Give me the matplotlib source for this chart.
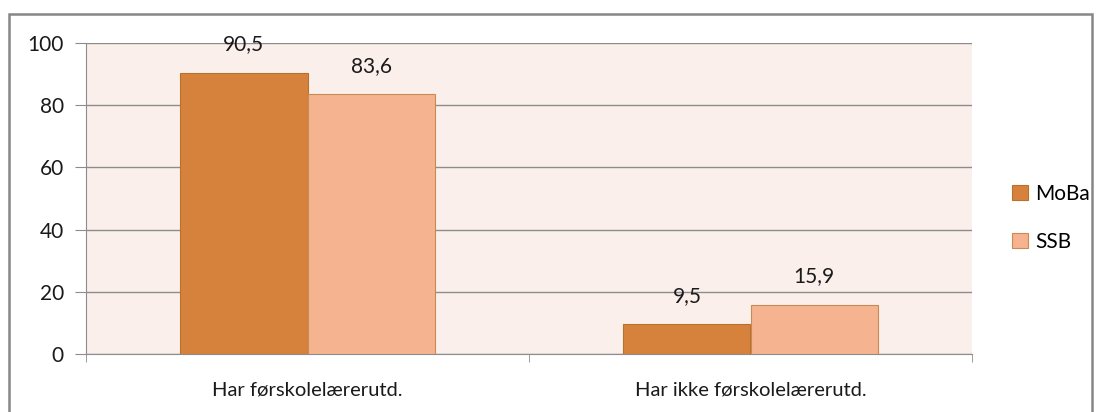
import matplotlib.pyplot as plt
import numpy as np
from matplotlib.patches import Rectangle

# data
categories = ['Har førskolelærerutd.', 'Har ikke førskolelærerutd.']
moba = [90.5, 9.5]
ssb = [83.6, 15.9]
series_names = ['MoBa', 'SSB']
yticks = [0, 20, 40, 60, 80, 100]

plt.rcParams['font.family'] = ['Lato', 'DejaVu Sans']

W, H = 1102, 412
fig = plt.figure(figsize=(W / 100, H / 100), dpi=100)

# outer chart border (bottom edge falls outside the image)
fig.patches.append(Rectangle((9 / W, -0.05), 1083 / W, (H - 14) / H + 0.05,
                             transform=fig.transFigure, fill=False,
                             edgecolor='#868686', linewidth=1.8))

ax = fig.add_axes([86 / W, (H - 354) / H, 886 / W, 311 / H])
ax.set_facecolor('#FBEFEB')

x = np.arange(len(categories))
bw = 0.287
b1 = ax.bar(x - bw / 2, moba, bw, color='#D6823C', edgecolor='#B8702F',
            linewidth=0.8, label=series_names[0], zorder=3)
b2 = ax.bar(x + bw / 2, ssb, bw, color='#F5B48F', edgecolor='#C98A55',
            linewidth=0.8, label=series_names[1], zorder=3)

# value labels
for bars in (b1, b2):
    for bar in bars:
        h = bar.get_height()
        ax.text(bar.get_x() + bar.get_width() / 2, h + 5.8,
                f"{h:.1f}".replace('.', ','), ha='center', va='bottom',
                fontsize=15, color='#1A1A1A')

ax.set_xlim(-0.5, 1.5)
ax.set_ylim(0, 100)
ax.set_yticks(yticks)
ax.yaxis.grid(True, color='#8C8C8C', linewidth=1, zorder=0)
ax.set_axisbelow(True)

ax.set_xticks(x)
ax.set_xticklabels(categories, fontsize=14.5, color='#1A1A1A')
ax.set_xticks([-0.5, 0.5, 1.5], minor=True)
ax.tick_params(axis='x', which='major', length=0, pad=20)
ax.tick_params(axis='x', which='minor', length=6, color='#8C8C8C')
ax.tick_params(axis='y', length=8, color='#8C8C8C', labelsize=15,
               labelcolor='#1A1A1A', pad=8)

for s in ['top', 'right']:
    ax.spines[s].set_visible(False)
ax.spines['left'].set_color('#8C8C8C')
ax.spines['bottom'].set_color('#8C8C8C')

fig.legend(handles=[b1, b2], labels=series_names, loc='center left',
           bbox_to_anchor=(1002 / W, (H - 218) / H), frameon=False,
           fontsize=15, handlelength=0.75, handleheight=0.75,
           handletextpad=0.35, labelspacing=1.35, borderpad=0)

fig.savefig('out.png', dpi=100)
